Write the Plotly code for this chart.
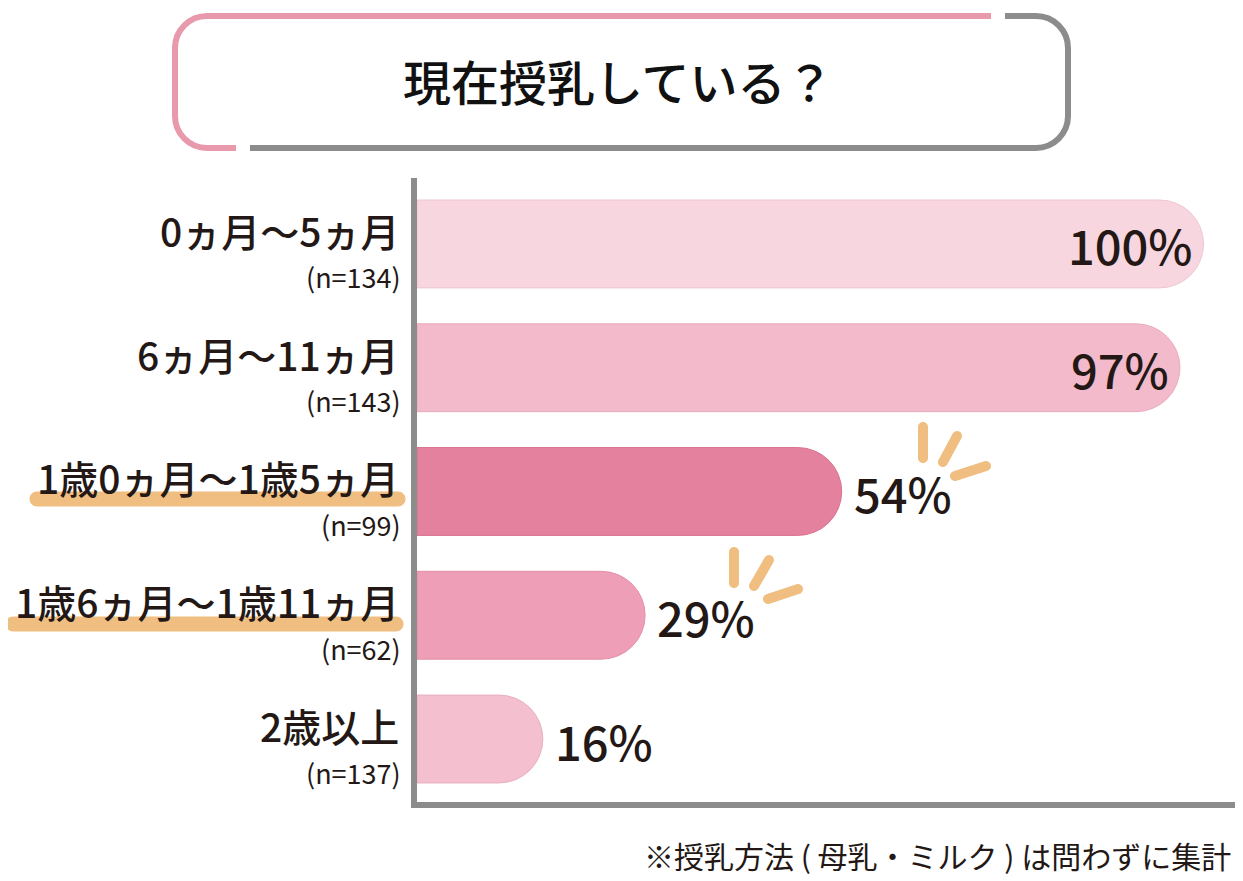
import plotly.graph_objects as go

categories = ["0ヵ月〜5ヵ月", "6ヵ月〜11ヵ月", "1歳0ヵ月〜1歳5ヵ月", "1歳6ヵ月〜1歳11ヵ月", "2歳以上"]
sample_sizes = [134, 143, 99, 62, 137]
percent = [100, 97, 54, 29, 16]
bar_colors = ["#F8D6E0", "#F3BACB", "#E4819F", "#EE9FB7", "#F4BFCF"]
edge_colors = ["#EDC6D2", "#E8ABBD", "#D9738F", "#E28FA7", "#E8AFC0"]
highlighted = [2, 3]
label_inside = [True, True, False, False, False]

# the page puts the figure 8px in from the top-left corner
OFF = 8
W, H = 1243 - OFF, 881 - OFF
L, R, T, B = 417 - OFF, 8, 178 - OFF, 79
TXT = "#231815"
FONT = "Noto Sans CJK JP"
ORANGE = "#F0BE80"


# screen pixel (as in the reference) -> paper coords
def to_paper(x, y):
    return (x - OFF - L) / (W - L - R), (H - B - (y - OFF)) / (H - T - B)


def path_from(points_cmds):
    out = []
    for cmd, pts in points_cmds:
        coords = " ".join("%.5f,%.5f" % to_paper(*p) for p in pts)
        out.append(cmd + coords)
    return " ".join(out)


def capsule(p1, p2, w):
    # filled stroke with round ends, built in screen px
    k = 0.5523
    r = w / 2
    dx, dy = p2[0] - p1[0], p2[1] - p1[1]
    ln = (dx * dx + dy * dy) ** 0.5
    dx, dy = dx / ln, dy / ln
    nx, ny = -dy, dx

    def pt(p, a, b):
        return (p[0] + a * dx * r + b * nx * r, p[1] + a * dy * r + b * ny * r)

    A, Bp, C, D = pt(p1, 0, 1), pt(p2, 0, 1), pt(p2, 0, -1), pt(p1, 0, -1)
    E, F = pt(p2, 1, 0), pt(p1, -1, 0)
    cmds = [
        ("M", [A]), ("L", [Bp]),
        ("C", [pt(p2, k, 1), pt(p2, 1, k), E]),
        ("C", [pt(p2, 1, -k), pt(p2, k, -1), C]),
        ("L", [D]),
        ("C", [pt(p1, -k, -1), pt(p1, -1, -k), F]),
        ("C", [pt(p1, -1, k), pt(p1, -k, 1), A]),
    ]
    return path_from(cmds) + " Z"


ypos = list(range(len(categories)))

fig = go.Figure()
fig.add_trace(go.Bar(
    x=percent, y=ypos, orientation="h", width=0.71,
    marker=dict(color=bar_colors, line=dict(color=edge_colors, width=1)),
    hoverinfo="skip",
))

shapes = []
annotations = []

# title box: pink half and grey half
r = 32
x0, x1, y0, y1 = 175, 1068, 16, 148
k = 0.5523
pink = path_from([
    ("M", [(236, y1)]), ("L", [(x0 + r, y1)]),
    ("C", [(x0 + r - r * k, y1), (x0, y1 - r + r * k), (x0, y1 - r)]),
    ("L", [(x0, y0 + r)]),
    ("C", [(x0, y0 + r - r * k), (x0 + r - r * k, y0), (x0 + r, y0)]),
    ("L", [(991, y0)]),
])
grey = path_from([
    ("M", [(1005, y0)]), ("L", [(x1 - r, y0)]),
    ("C", [(x1 - r + r * k, y0), (x1, y0 + r - r * k), (x1, y0 + r)]),
    ("L", [(x1, y1 - r)]),
    ("C", [(x1, y1 - r + r * k), (x1 - r + r * k, y1), (x1 - r, y1)]),
    ("L", [(250, y1)]),
])
shapes.append(dict(type="path", xref="paper", yref="paper", path=pink,
                   line=dict(color="#E899AC", width=6)))
shapes.append(dict(type="path", xref="paper", yref="paper", path=grey,
                   line=dict(color="#8C8C8C", width=6)))

tx, ty = to_paper(618, 80)
annotations.append(dict(text="現在授乳している？", x=tx, y=ty, xref="paper", yref="paper",
                        xanchor="center", yanchor="middle", showarrow=False,
                        font=dict(family=FONT, size=48, color="#111111", weight=500)))

# orange underline for the highlighted rows
underline = {2: (37, 398, 499), 3: (13, 396, 624)}
for i in highlighted:
    xa, xb, yy = underline[i]
    shapes.append(dict(type="path", xref="paper", yref="paper", layer="below",
                       path=capsule((xa, yy), (xb, yy), 15),
                       fillcolor=ORANGE, line=dict(width=0)))

# little accent strokes next to 54% and 29%
sparks = [
    ((923, 427), (923, 458)), ((957, 436), (943, 462)), ((986, 466), (955, 476)),
    ((734, 552), (734, 583)), ((769, 560), (754, 586)), ((798, 589), (768, 599)),
]
for p1, p2 in sparks:
    shapes.append(dict(type="path", xref="paper", yref="paper",
                       path=capsule(p1, p2, 10), fillcolor=ORANGE, line=dict(width=0)))

# row labels
for i, (cat, n) in enumerate(zip(categories, sample_sizes)):
    annotations.append(dict(text=cat, x=0, y=i, xref="paper", yref="y",
                            xanchor="right", yanchor="middle", xshift=-16, yshift=14,
                            showarrow=False, font=dict(family=FONT, size=39, color=TXT, weight=500)))
    annotations.append(dict(text=f"(n={n})", x=0, y=i, xref="paper", yref="y",
                            xanchor="right", yanchor="middle", xshift=-14, yshift=-33,
                            showarrow=False, font=dict(family=FONT, size=27, color=TXT)))

# percentage labels: inside the long bars, after the short ones
for i, (v, inside) in enumerate(zip(percent, label_inside)):
    annotations.append(dict(text=f"{v}%", x=v, y=i, xref="x", yref="y",
                            xanchor="right" if inside else "left", yanchor="middle",
                            xshift=-9 if inside else 10, yshift=-1, showarrow=False,
                            font=dict(family=FONT, size=47, color=TXT, weight=500)))

fx, fy = to_paper(1233, 855)
annotations.append(dict(text="※授乳方法 ( 母乳・ミルク ) は問わずに集計", x=fx, y=fy,
                        xref="paper", yref="paper", xanchor="right", yanchor="middle",
                        showarrow=False, font=dict(family=FONT, size=30, color=TXT)))

fig.update_layout(
    width=W, height=H,
    margin=dict(l=L, r=R, t=T, b=B),
    paper_bgcolor="white", plot_bgcolor="white",
    showlegend=False,
    barcornerradius="50%",
    xaxis=dict(range=[0, 104], showgrid=False, zeroline=False, showticklabels=False,
               showline=True, linecolor="#8C8C8C", linewidth=6, fixedrange=True),
    yaxis=dict(range=[4.509, -0.533], showgrid=False, zeroline=False, showticklabels=False,
               showline=True, linecolor="#8C8C8C", linewidth=6, fixedrange=True),
    shapes=shapes,
    annotations=annotations,
)

fig.write_html("out.html")
